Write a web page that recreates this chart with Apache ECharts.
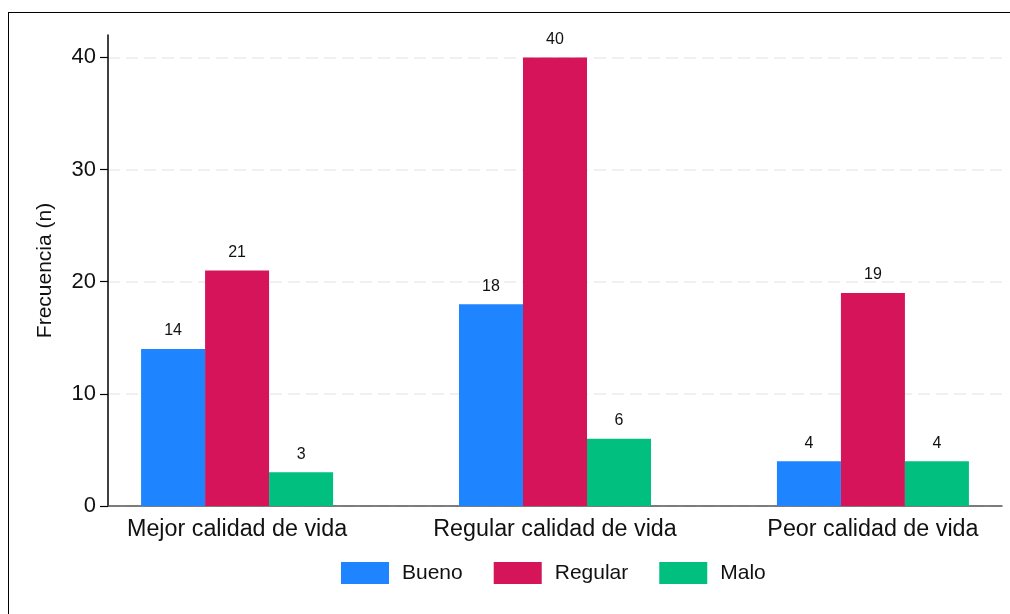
<!DOCTYPE html>
<html>
<head>
<meta charset="utf-8">
<script src="https://cdn.jsdelivr.net/npm/echarts@6/dist/echarts.min.js"></script>
<style>
  html, body { margin: 0; padding: 0; background: #fff; }
  body { width: 1010px; height: 614px; overflow: hidden; position: relative; }
  #chart { width: 1010px; height: 614px; position: absolute; left: 0; top: 0; }
  #frame { position: absolute; left: 8px; top: 12px; width: 1100px; height: 700px;
           border: 1.5px solid #000; pointer-events: none; }
</style>
</head>
<body>
<div id="chart"></div>
<div id="frame"></div>
<script>
const categories = ['Mejor calidad de vida', 'Regular calidad de vida', 'Peor calidad de vida'];
const seriesNames = ['Bueno', 'Regular', 'Malo'];
const bueno = [14, 18, 4];
const regular = [21, 40, 19];
const malo = [3, 6, 4];
const yTicks = [0, 10, 20, 30, 40];
const colors = ['#1E84FF', '#D51459', '#00BF7F'];

const seriesValues = [bueno, regular, malo];
const positions = categories.map((c, i) => i + 1);

const chart = echarts.init(document.getElementById('chart'), null, { renderer: 'canvas' });
const font = 'Liberation Sans, Arial, sans-serif';

chart.setOption({
  animation: false,
  textStyle: { fontFamily: font },
  grid: { left: 108, right: 8, top: 35, bottom: 108, containLabel: false },
  legend: {
    data: seriesNames,
    bottom: 25,
    left: 336,
    itemWidth: 48,
    itemHeight: 22,
    itemGap: 31,
    icon: 'rect',
    textStyle: { fontSize: 21, color: '#111', fontFamily: font, padding: [0, 0, 0, 8] }
  },
  xAxis: {
    type: 'value',
    min: 0.594,
    max: 3.406,
    splitLine: { show: false },
    axisTick: { show: false },
    axisLine: { show: true, onZero: false, lineStyle: { color: '#555', width: 1.5 } },
    axisLabel: {
      customValues: positions,
      formatter: v => categories[Math.round(v) - 1] || '',
      fontSize: 23.3,
      color: '#111',
      margin: 12,
      fontFamily: font
    }
  },
  yAxis: {
    type: 'value',
    min: 0,
    max: 42,
    interval: 10,
    name: 'Frecuencia (n)',
    nameLocation: 'middle',
    nameRotate: 90,
    nameGap: 52,
    nameTextStyle: { fontSize: 21, color: '#111', fontFamily: font },
    axisLine: { show: true, lineStyle: { color: '#000', width: 1.5 } },
    axisTick: { show: true, length: 8, customValues: yTicks, lineStyle: { color: '#000', width: 1.2 } },
    axisLabel: {
      customValues: yTicks,
      fontSize: 22, color: '#111', margin: 12, fontFamily: font
    },
    splitLine: { show: true, lineStyle: { color: '#ebebeb', width: 1.5, type: [12, 6] } }
  },
  series: seriesValues.map((vals, si) => ({
    name: seriesNames[si],
    type: 'bar',
    barWidth: 64,
    barGap: '0%',
    itemStyle: { color: colors[si] },
    label: {
      show: true, position: 'top', distance: 10,
      fontSize: 16, color: '#111', fontFamily: font
    },
    data: vals.map((v, i) => [positions[i], v])
  }))
});
</script>
</body>
</html>
